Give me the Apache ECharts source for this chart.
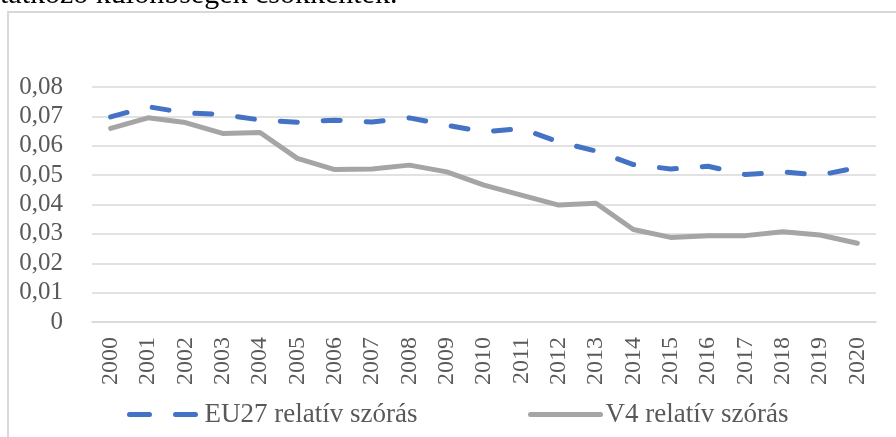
<!DOCTYPE html>
<html>
<head>
<meta charset="utf-8">
<script src="https://cdn.jsdelivr.net/npm/echarts@6/dist/echarts.min.js"></script>
<style>
  html, body { margin: 0; padding: 0; background: #fff; }
  #chart { width: 896px; height: 437px; }
</style>
</head>
<body>
<div id="chart"></div>
<script>
// years on the x axis
var years = ['2000', '2001', '2002', '2003', '2004', '2005', '2006', '2007', '2008', '2009', '2010',
             '2011', '2012', '2013', '2014', '2015', '2016', '2017', '2018', '2019', '2020'];
// EU27 relatív szórás
var eu27 = [0.0698, 0.0733, 0.0712, 0.0706, 0.0688, 0.0680, 0.0687, 0.0681, 0.0695, 0.0670, 0.0647,
            0.0659, 0.0613, 0.0582, 0.0536, 0.0521, 0.0530, 0.0502, 0.0511, 0.0500, 0.0526];
// V4 relatív szórás
var v4 = [0.0659, 0.0695, 0.0679, 0.0642, 0.0645, 0.0557, 0.0519, 0.0521, 0.0534, 0.0511, 0.0466,
          0.0432, 0.0398, 0.0404, 0.0315, 0.0288, 0.0294, 0.0294, 0.0307, 0.0296, 0.0268];
var seriesNames = ['EU27 relatív szórás', 'V4 relatív szórás'];

var serif = '"Liberation Serif", "DejaVu Serif", serif';

function legendFor(name, left, lineType) {
    return {
        data: [name],
        left: left,
        bottom: 4,
        itemWidth: 70,
        itemHeight: 12,
        itemGap: 6,
        itemStyle: { opacity: 0 },
        lineStyle: { width: 5, type: lineType, cap: 'round' },
        textStyle: { fontFamily: serif, fontSize: 27, color: '#595959' }
    };
}

var chart = echarts.init(document.getElementById('chart'));
var option = {
    animation: false,
    textStyle: { fontFamily: serif },
    graphic: [
        {
            type: 'text',
            left: 0,
            top: -20,
            style: {
                text: 'tatkozó különbségek csökkentek.',
                fontFamily: serif,
                fontSize: 30,
                fill: '#000'
            }
        },
        {
            type: 'rect',
            shape: { x: 8, y: 12, width: 960, height: 500 },
            style: { fill: 'none', stroke: '#d9d9d9', lineWidth: 2 }
        }
    ],
    grid: { left: 92, right: 20, top: 87, bottom: 115 },
    legend: [
        legendFor(seriesNames[0], 122, [20, 26]),
        legendFor(seriesNames[1], 523, 'solid')
    ],
    xAxis: {
        type: 'category',
        data: years,
        boundaryGap: true,
        axisLine: { show: true, lineStyle: { color: '#d9d9d9', width: 1.5 } },
        axisTick: { show: false },
        axisLabel: {
            rotate: 90,
            margin: 15,
            interval: 0,
            fontFamily: serif,
            fontSize: 24,
            color: '#595959'
        }
    },
    yAxis: {
        type: 'value',
        min: 0,
        max: 0.08,
        interval: 0.01,
        axisLine: { show: false },
        axisTick: { show: false },
        splitLine: { lineStyle: { color: '#d9d9d9', width: 1.5 } },
        axisLabel: {
            margin: 29,
            fontFamily: serif,
            fontSize: 25,
            color: '#595959',
            formatter: function (v) {
                return v === 0 ? '0' : v.toFixed(2).replace('.', ',');
            }
        }
    },
    series: [
        {
            name: seriesNames[0],
            type: 'line',
            data: eu27,
            symbol: 'none',
            lineStyle: { color: '#4472C4', width: 5, type: [17, 26], cap: 'round' },
            itemStyle: { color: '#4472C4' }
        },
        {
            name: seriesNames[1],
            type: 'line',
            data: v4,
            symbol: 'none',
            lineStyle: { color: '#A5A5A5', width: 5, cap: 'round', join: 'round' },
            itemStyle: { color: '#A5A5A5' }
        }
    ]
};
chart.setOption(option);
window.addEventListener('resize', chart.resize);
</script>
</body>
</html>
